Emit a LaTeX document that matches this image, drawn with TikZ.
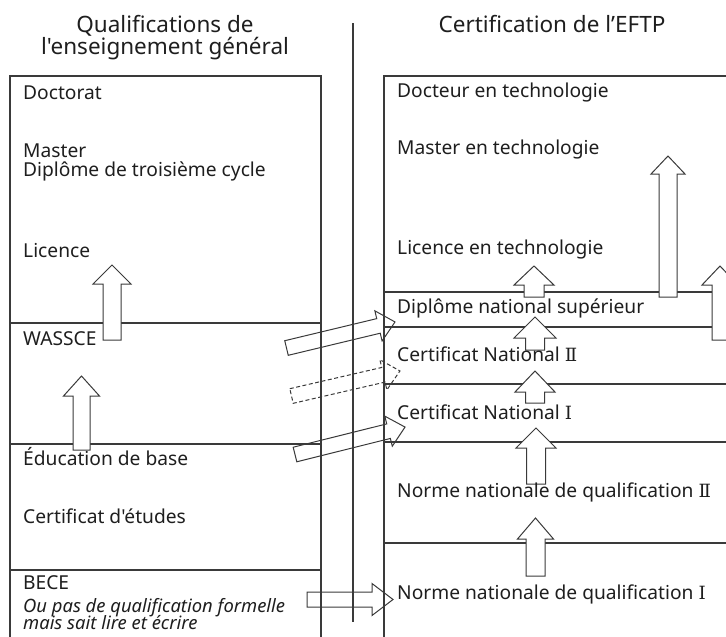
\documentclass[tikz,border=0pt]{standalone}
\usepackage{fontspec}
\newfontfamily\nsans{Noto Sans}
\newfontfamily\dvs{DejaVu Serif}[Scale=0.95]
\definecolor{lc}{HTML}{3A3A3A}
\definecolor{tc}{HTML}{1E1E1E}
\tikzset{
 frame/.style={draw=lc, line width=1.2pt},
 blkfill/.style={draw=lc, line width=1pt, fill=white, line join=miter},
 blkopen/.style={draw=lc, line width=1pt, line join=miter},
 blkdash/.style={draw=lc, line width=1pt, dash pattern=on 4pt off 2.5pt},
 lbl/.style={anchor=base west, inner sep=0pt, text=tc, font=\nsans\fontsize{19.2}{22}\selectfont},
 ilbl/.style={lbl, font=\nsans\itshape\fontsize{18.4}{22}\selectfont},
 hdr/.style={anchor=base, inner sep=0pt, text=tc, font=\nsans\fontsize{22.5}{26}\selectfont},
}
% #1 style, #2 x, #3 y (tail centre), #4 angle, #5 length, #6 shaft half width, #7 head half width, #8 head length
\newcommand\blkarrow[8]{%
 \begin{scope}[shift={(#2,#3)}, rotate=#4]
 \path[#1] (0,-#6) -- ({#5-#8},-#6) -- ({#5-#8},-#7) -- (#5,0) -- ({#5-#8},#7) -- ({#5-#8},#6) -- (0,#6) -- cycle;
 \end{scope}}
\newcommand\rI{{\dvs Ⅰ}}
\newcommand\rII{{\dvs Ⅱ}}
\begin{document}
\begin{tikzpicture}[x=1pt,y=-1pt]
\useasboundingbox (0,0) rectangle (726,637);
\clip (0,0) rectangle (726,637);
% left column frame
\draw[frame] (10,637) -- (10,76) -- (321,76) -- (321,637);
\draw[frame] (10,323) -- (321,323);
\draw[frame] (10,444) -- (321,444);
\draw[frame] (10,570) -- (321,570);
% centre divider
\draw[frame] (353,23) -- (353,622);
% right column frame
\draw[frame] (384,637) -- (384,76) -- (726,76);
\draw[frame] (384,292) -- (712,292);
\draw[frame] (384,327) -- (712,327);
\draw[frame] (384,384) -- (726,384);
\draw[frame] (384,442) -- (726,442);
\draw[frame] (384,543) -- (726,543);
% vertical progression arrows (filled white)
\blkarrow{blkfill}{112}{340}{90}{75}{9}{19}{19}
\blkarrow{blkfill}{81.5}{450}{90}{74}{8.5}{18}{20}
\blkarrow{blkfill}{534}{297}{90}{31}{10}{20}{19}
\blkarrow{blkfill}{535}{350}{90}{33}{9.5}{21}{21}
\blkarrow{blkfill}{535}{403}{90}{32}{9.5}{20}{21}
\blkarrow{blkfill}{536}{484}{90}{56}{9.5}{20}{20}
\blkarrow{blkfill}{535.5}{576}{90}{58}{9.5}{18}{21}
\blkarrow{blkfill}{668}{297}{90}{141}{9}{17}{18}
\blkarrow{blkfill}{720}{340}{90}{74}{8}{18}{19}
% crossing arrows (open)
\blkarrow{blkopen}{286.5}{348}{13.5}{111.6}{7.5}{15.5}{17}
\blkarrow{blkdash}{291.5}{396}{13}{111.3}{7.5}{15.5}{17}
\blkarrow{blkopen}{295}{454.5}{14}{113.4}{7.5}{15.5}{17}
\blkarrow{blkopen}{307}{599.5}{0}{86}{7.5}{16}{21}
% headers
\node[hdr] (hq1) at (165,32) {Qualifications de};
\node[hdr] (hq2) at (165,54) {l'enseignement général};
\node[hdr] (hc) at (552,32) {Certification de l’EFTP};
% left labels
\node[lbl] (doc) at (23,99) {Doctorat};
\node[lbl] (mas) at (23,157) {Master};
\node[lbl] (dtc) at (23,176) {Diplôme de troisième cycle};
\node[lbl] (lic) at (23,257) {Licence};
\node[lbl] (was) at (23,345) {WASSCE};
\node[lbl] (edu) at (23,465) {Éducation de base};
\node[lbl] (cet) at (23,523) {Certificat d'études};
\node[lbl] (bec) at (23,589) {BECE};
\node[ilbl] (ou) at (23,612) {Ou pas de qualification formelle};
\node[ilbl] (mai) at (23,629) {mais sait lire et écrire};
% right labels
\node[lbl] (dt) at (397,97) {Docteur en technologie};
\node[lbl] (mt) at (397,154) {Master en technologie};
\node[lbl] (lt) at (397,254) {Licence en technologie};
\node[lbl] (dns) at (397,313) {Diplôme national supérieur};
\node[lbl] (cn2) at (397,361) {Certificat National \rII};
\node[lbl] (cn1) at (397,419) {Certificat National \rI};
\node[lbl] (nq2) at (397,497) {Norme nationale de qualification \rII};
\node[lbl] (nq1) at (397,599) {Norme nationale de qualification \rI};
\end{tikzpicture}
\end{document}
